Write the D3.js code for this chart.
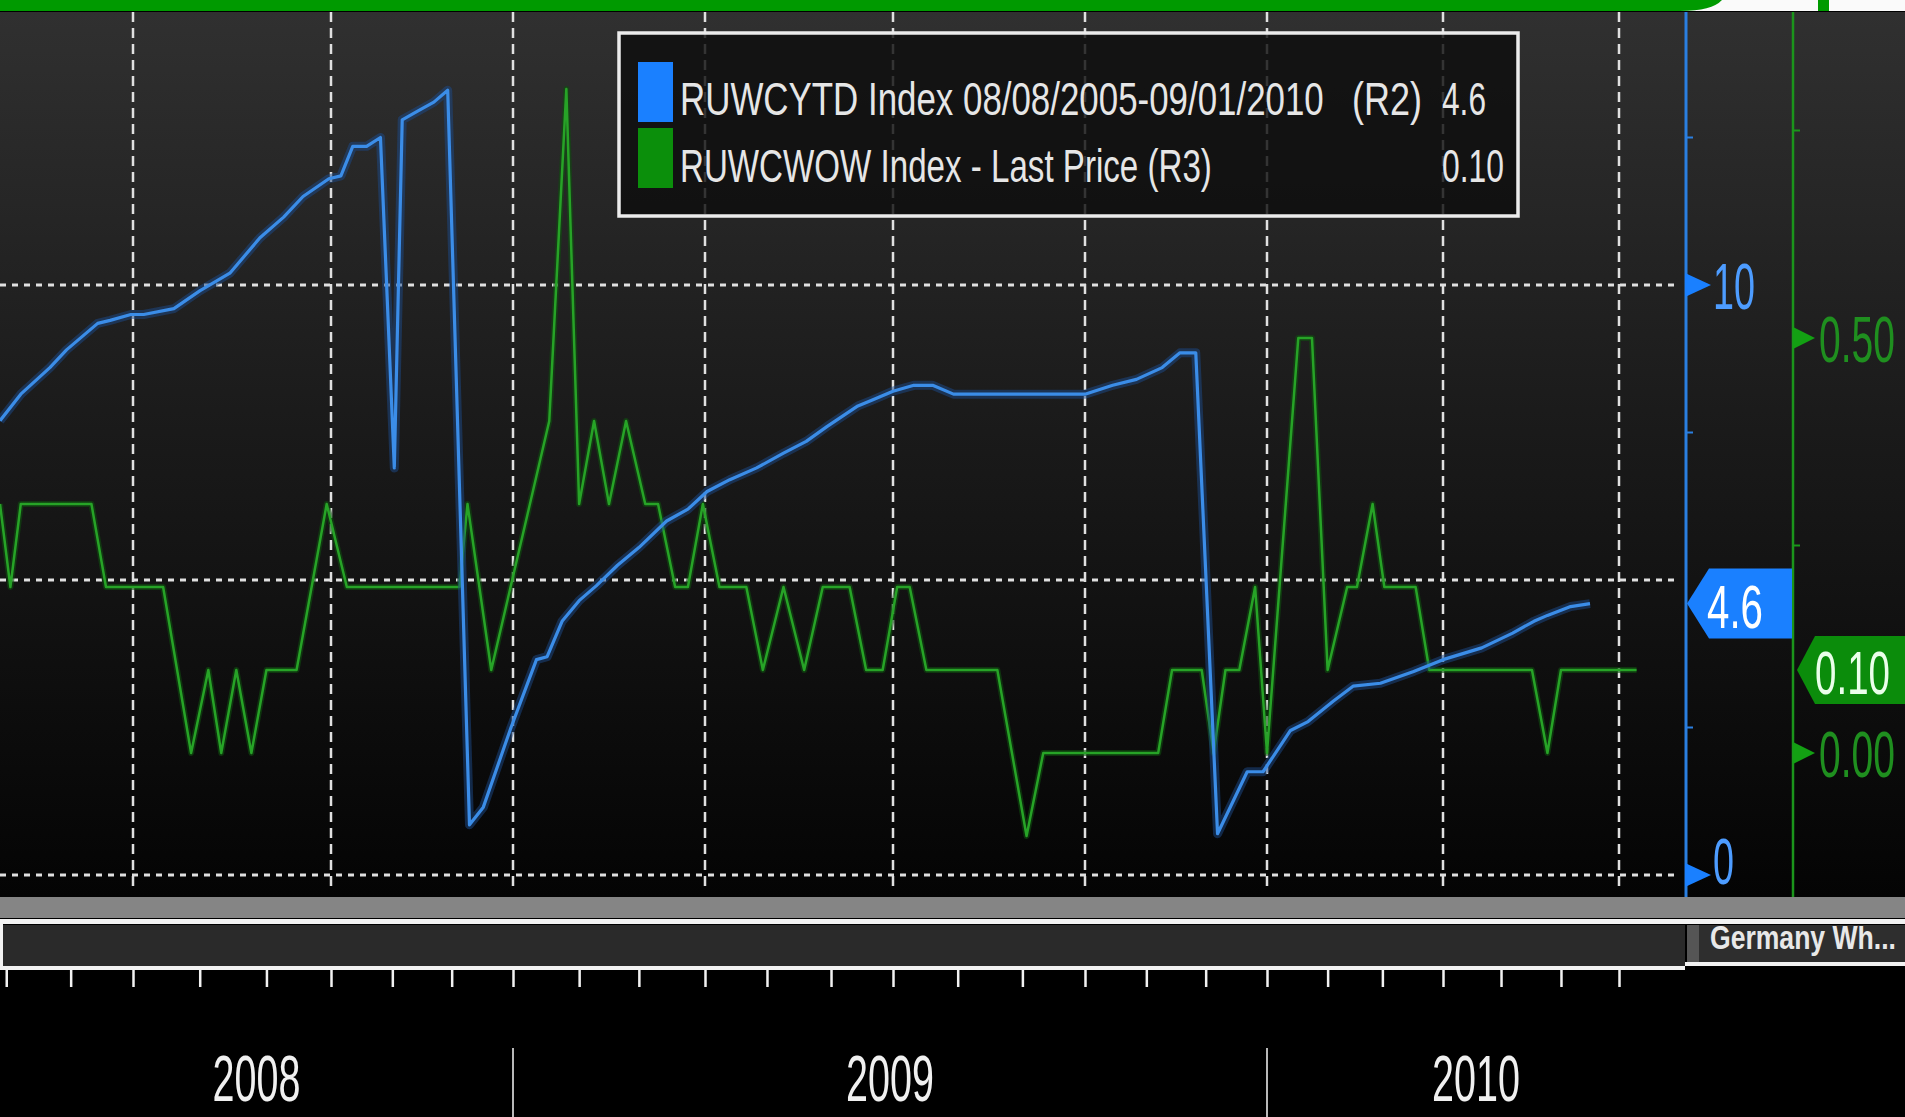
<!DOCTYPE html>
<html>
<head>
<meta charset="utf-8">
<script src="https://cdn.jsdelivr.net/npm/d3@7"></script>
<style>
  html, body { margin:0; padding:0; background:#000; overflow:hidden; }
  svg { display:block; }
  text { font-family: "Liberation Sans", Arial, sans-serif; }
</style>
</head>
<body>
<div id="chart"></div>
<script>
let width_chart = 1905;
let height_chart = 1117;

// RUWCYTD Index (R2) - blue line, corners
let blue_dates = ["2008-04-28","2008-05-08","2008-05-22","2008-05-30","2008-06-14","2008-06-20","2008-06-30","2008-07-06","2008-07-20","2008-08-01",
  "2008-08-15","2008-08-29","2008-09-09","2008-09-18","2008-09-30","2008-10-06","2008-10-12","2008-10-19","2008-10-26","2008-11-02",
  "2008-11-06","2008-11-14","2008-11-22","2008-11-29","2008-12-10","2008-12-17","2008-12-31","2009-01-12","2009-01-17","2009-01-24",
  "2009-02-01","2009-02-09","2009-02-19","2009-03-01","2009-03-14","2009-03-24","2009-04-02","2009-04-13","2009-04-26","2009-05-09",
  "2009-05-20","2009-05-30","2009-06-14","2009-06-21","2009-07-01","2009-07-11","2009-07-20","2009-07-30","2009-10-01","2009-10-15",
  "2009-10-27","2009-11-09","2009-11-18","2009-11-26","2009-12-07","2009-12-22","2009-12-30","2010-01-13","2010-01-22","2010-02-04",
  "2010-02-14","2010-02-28","2010-03-17","2010-04-01","2010-04-21","2010-05-07","2010-05-18","2010-05-25","2010-06-06","2010-06-16"];
let blue_values = [7.7,8.15,8.6,8.9,9.35,9.4,9.5,9.5,9.6,9.9,
  10.2,10.8,11.15,11.5,11.8,11.85,12.35,12.35,12.5,6.9,
  12.8,12.95,13.1,13.3,0.85,1.15,2.5,3.65,3.7,4.3,
  4.65,4.9,5.25,5.55,6.0,6.2,6.5,6.7,6.9,7.15,
  7.35,7.6,7.95,8.05,8.2,8.3,8.3,8.15,8.15,8.3,
  8.4,8.6,8.85,8.85,0.7,1.75,1.75,2.45,2.6,2.95,
  3.2,3.25,3.45,3.65,3.85,4.1,4.3,4.4,4.55,4.6];

// RUWCWOW Index - Last Price (R3) - green line
let green_dates = ["2008-04-28","2008-05-03","2008-05-08","2008-06-11","2008-06-18","2008-07-15","2008-07-28","2008-08-05","2008-08-11","2008-08-18",
  "2008-08-25","2008-09-01","2008-09-15","2008-09-29","2008-10-09","2008-12-05","2008-12-09","2008-12-21","2009-01-18","2009-01-26",
  "2009-02-01","2009-02-08","2009-02-15","2009-02-23","2009-03-04","2009-03-10","2009-03-18","2009-03-24","2009-03-31","2009-04-08",
  "2009-04-21","2009-04-29","2009-05-09","2009-05-19","2009-05-28","2009-06-10","2009-06-18","2009-06-26","2009-07-03","2009-07-09",
  "2009-07-17","2009-08-20","2009-09-03","2009-09-11","2009-11-07","2009-11-14","2009-11-29","2009-12-05","2009-12-11","2009-12-18",
  "2009-12-26","2010-01-01","2010-01-17","2010-01-24","2010-02-01","2010-02-11","2010-02-16","2010-02-24","2010-03-02","2010-03-18",
  "2010-03-25","2010-05-17","2010-05-25","2010-06-01","2010-07-09"];
let green_values = [0.3,0.2,0.3,0.3,0.2,0.2,0.0,0.1,0.0,0.1,
  0.0,0.1,0.1,0.3,0.2,0.2,0.3,0.1,0.4,0.8,
  0.3,0.4,0.3,0.4,0.3,0.3,0.2,0.2,0.3,0.2,
  0.2,0.1,0.2,0.1,0.2,0.2,0.1,0.1,0.2,0.2,
  0.1,0.1,-0.1,0.0,0.0,0.1,0.1,0.0,0.1,0.1,
  0.2,0.0,0.5,0.5,0.1,0.2,0.2,0.3,0.2,0.2,
  0.1,0.1,0.0,0.1,0.1];

let blue_ticks = [0, 10];
let blue_minor = [2.5, 7.5, 12.5];
let blue_grid = [0, 5, 10];
let green_ticks = [0, 0.5];
let green_minor = [0.25, 0.75];
let year_labels = ["2008", "2009", "2010"];
let legend_labels = ["RUWCYTD Index 08/08/2005-09/01/2010", "RUWCWOW Index - Last Price (R3)"];
let legend_tags = ["(R2)", ""];
let footer_label = "Germany Wh...";

let parse = d3.timeParse("%Y-%m-%d");
let blue_data = blue_dates.map((d, i) => ({date: parse(d), value: blue_values[i]}));
let green_data = green_dates.map((d, i) => ({date: parse(d), value: green_values[i]}));

// plot frame
let plot_left = 0, plot_right = 1685, plot_top = 12, plot_bottom = 897;
let green_axis_x = 1793;

// the terminal spaces its quarters a little unevenly
let x = d3.scaleTime()
    .domain(["2008-04-28","2008-07-01","2008-10-01","2009-01-01","2009-04-01","2009-07-01","2009-10-01","2010-01-01","2010-04-01","2010-07-01","2010-07-31"].map(parse))
    .range([0, 133, 331, 513, 705, 893, 1085, 1267, 1443, 1619, plot_right]);
let yBlue = d3.scaleLinear().domain([0, 10]).range([875, 285]);
let yGreen = d3.scaleLinear().domain([0, 0.5]).range([753, 338]);

let svg = d3.select("#chart").append("svg")
    .attr("width", width_chart)
    .attr("height", height_chart);

// text squeezed to a given width (the terminal font is very narrow)
function fitText(parent, str, px, py, w, size, color, anchor, weight) {
    let grp = parent.append("g").attr("transform", "translate(" + px + "," + py + ")");
    let t = grp.append("text")
        .attr("font-size", size)
        .attr("fill", color)
        .attr("text-anchor", anchor || "start")
        .attr("font-weight", weight || "normal")
        .text(str);
    let n = t.node().getComputedTextLength();
    t.attr("transform", "scale(" + (w / n) + ",1)");
    return grp;
}

let defs = svg.append("defs");
let grad = defs.append("linearGradient").attr("id", "bg").attr("x1", 0).attr("y1", 0).attr("x2", 0).attr("y2", 1);
grad.append("stop").attr("offset", "0%").attr("stop-color", "#303030");
grad.append("stop").attr("offset", "45%").attr("stop-color", "#1b1b1b");
grad.append("stop").attr("offset", "100%").attr("stop-color", "#040404");
defs.append("clipPath").attr("id", "plotclip")
  .append("rect").attr("x", plot_left).attr("y", plot_top)
  .attr("width", plot_right - plot_left).attr("height", plot_bottom - plot_top);
defs.append("clipPath").attr("id", "footclip")
  .append("rect").attr("x", plot_right).attr("y", 926).attr("width", width_chart - plot_right).attr("height", 38);

svg.append("rect").attr("width", width_chart).attr("height", height_chart).attr("fill", "#000");
svg.append("rect")
    .attr("x", 0).attr("y", plot_top)
    .attr("width", width_chart).attr("height", plot_bottom - plot_top)
    .attr("fill", "url(#bg)");

// top strip
svg.append("rect").attr("x", 1650).attr("y", 0).attr("width", width_chart - 1650).attr("height", 11).attr("fill", "#fafafa");
svg.append("path")
    .attr("d", "M0,0 L1722,0 Q1712,11 1680,11 L0,11 Z")
    .attr("fill", "#009a00");
svg.append("rect").attr("x", 1818).attr("y", 0).attr("width", 11).attr("height", 11).attr("fill", "#009a00");

// grid
let quarters = d3.timeMonth.every(3).range(x.domain()[0], x.domain()[x.domain().length - 1]);
svg.append("g").selectAll("line")
    .data(quarters)
  .enter().append("line")
    .attr("x1", d => x(d)).attr("x2", d => x(d))
    .attr("y1", plot_top).attr("y2", 890)
    .attr("stroke", "#e0e0e0")
    .attr("stroke-width", 2.5)
    .attr("stroke-dasharray", "10,6");
svg.append("g").selectAll("line")
    .data(blue_grid)
  .enter().append("line")
    .attr("x1", plot_left).attr("x2", plot_right - 6)
    .attr("y1", d => yBlue(d)).attr("y2", d => yBlue(d))
    .attr("stroke", "#e0e0e0")
    .attr("stroke-width", 3)
    .attr("stroke-dasharray", "6,6");

// lines
let lines = svg.append("g").attr("clip-path", "url(#plotclip)");
let blueLine = d3.line().x(d => x(d.date)).y(d => yBlue(d.value));
let greenLine = d3.line().x(d => x(d.date)).y(d => yGreen(d.value));

lines.append("path").datum(green_data)
    .attr("d", greenLine).attr("fill", "none")
    .attr("stroke", "#0f4f0f").attr("stroke-width", 6).attr("stroke-opacity", 0.6)
    .attr("stroke-linejoin", "round");
lines.append("path").datum(green_data)
    .attr("d", greenLine).attr("fill", "none")
    .attr("stroke", "#27a327").attr("stroke-width", 2.5)
    .attr("stroke-linejoin", "round");
lines.append("path").datum(blue_data)
    .attr("d", blueLine).attr("fill", "none")
    .attr("stroke", "#1c4a8a").attr("stroke-width", 9).attr("stroke-opacity", 0.5)
    .attr("stroke-linejoin", "round");
lines.append("path").datum(blue_data)
    .attr("d", blueLine).attr("fill", "none")
    .attr("stroke", "#3b8de8").attr("stroke-width", 3.2)
    .attr("stroke-linejoin", "round");

// legend
let legend = svg.append("g");
legend.append("rect")
    .attr("x", 619).attr("y", 33).attr("width", 899).attr("height", 183)
    .attr("fill", "#0e0e0e").attr("fill-opacity", 0.82)
    .attr("stroke", "#ececec").attr("stroke-width", 3.5);
let legend_colors = ["#1a80ff", "#0b8f0b"];
let legend_last = [d3.format(".1f")(blue_values[blue_values.length - 1]), d3.format(".2f")(green_values[green_values.length - 1])];
let legend_widths = [644, 532];
let last_widths = [44, 62];
legend_labels.forEach(function(lab, i) {
    let base = 115 + i * 67;
    legend.append("rect")
        .attr("x", 638).attr("y", 62 + i * 66).attr("width", 35).attr("height", 60)
        .attr("fill", legend_colors[i]);
    fitText(legend, lab, 680, base, legend_widths[i], 46, "#e6e6e6");
    if (legend_tags[i]) fitText(legend, legend_tags[i], 1352, base, 70, 46, "#e6e6e6");
    fitText(legend, legend_last[i], 1442, base, last_widths[i], 46, "#e6e6e6");
});

// right axes
svg.append("line")
    .attr("x1", plot_right + 1).attr("x2", plot_right + 1)
    .attr("y1", plot_top).attr("y2", 918)
    .attr("stroke", "#2a7fe0").attr("stroke-width", 3);
svg.append("line")
    .attr("x1", green_axis_x).attr("x2", green_axis_x)
    .attr("y1", plot_top).attr("y2", plot_bottom)
    .attr("stroke", "#1b951b").attr("stroke-width", 2.5);

svg.append("g").selectAll("line")
    .data(blue_minor)
  .enter().append("line")
    .attr("x1", plot_right).attr("x2", plot_right + 8)
    .attr("y1", d => yBlue(d)).attr("y2", d => yBlue(d))
    .attr("stroke", "#2a7fe0").attr("stroke-width", 2);
svg.append("g").selectAll("line")
    .data(green_minor)
  .enter().append("line")
    .attr("x1", green_axis_x).attr("x2", green_axis_x + 7)
    .attr("y1", d => yGreen(d)).attr("y2", d => yGreen(d))
    .attr("stroke", "#1b951b").attr("stroke-width", 2);

let axisText = svg.append("g");
blue_ticks.forEach(function(d) {
    let yy = yBlue(d);
    axisText.append("path")
        .attr("d", "M" + plot_right + "," + (yy - 12) + " L" + (plot_right + 26) + "," + yy + " L" + plot_right + "," + (yy + 12) + "Z")
        .attr("fill", "#1a80ff");
    fitText(axisText, String(d), plot_right + 28, Math.min(yy + 24, 884), String(d).length * 21, 64, "#4d9cff");
});
green_ticks.forEach(function(d) {
    let yy = yGreen(d);
    axisText.append("path")
        .attr("d", "M" + green_axis_x + "," + (yy - 11) + " L" + (green_axis_x + 22) + "," + yy + " L" + green_axis_x + "," + (yy + 11) + "Z")
        .attr("fill", "#13a013");
    fitText(axisText, d3.format(".2f")(d), green_axis_x + 26, yy + 24, 76, 64, "#1f8f1f");
});

// last value tags
let yb = yBlue(blue_values[blue_values.length - 1]);
svg.append("path")
    .attr("d", "M" + (plot_right + 2) + "," + yb + " L" + (plot_right + 24) + "," + (yb - 35) + " L" + (green_axis_x - 1) + "," + (yb - 35) +
               " L" + (green_axis_x - 1) + "," + (yb + 35) + " L" + (plot_right + 24) + "," + (yb + 35) + "Z")
    .attr("fill", "#1a80ff");
fitText(svg, legend_last[0], plot_right + 22, yb + 24, 56, 62, "#ffffff");

let yg = yGreen(green_values[green_values.length - 1]);
svg.append("path")
    .attr("d", "M" + (green_axis_x + 4) + "," + yg + " L" + (green_axis_x + 22) + "," + (yg - 34) + " L" + width_chart + "," + (yg - 34) +
               " L" + width_chart + "," + (yg + 34) + " L" + (green_axis_x + 22) + "," + (yg + 34) + "Z")
    .attr("fill", "#0b8c0b");
fitText(svg, legend_last[1], green_axis_x + 22, yg + 24, 75, 62, "#eaffea");

// bottom bands
svg.append("rect").attr("x", 0).attr("y", plot_bottom).attr("width", width_chart).attr("height", 21).attr("fill", "#858585");
svg.append("rect").attr("x", 0).attr("y", 925).attr("width", plot_right).attr("height", 41).attr("fill", "#2a2a2a");
let foot = svg.append("g");
foot.append("rect").attr("x", plot_right + 2).attr("y", 925).attr("width", width_chart - plot_right).attr("height", 38).attr("fill", "#2e2e2e");
foot.append("rect").attr("x", plot_right + 2).attr("y", 925).attr("width", 12).attr("height", 38).attr("fill", "#555");
let footText = foot.append("g").attr("clip-path", "url(#footclip)");
fitText(footText, footer_label, 1710, 949, 186, 34, "#e8e8e8", "start", "bold");
svg.append("rect").attr("x", 0).attr("y", 919).attr("width", width_chart).attr("height", 5).attr("fill", "#f2f2f2");
svg.append("rect").attr("x", 0).attr("y", 922).attr("width", 3).attr("height", 44).attr("fill", "#f2f2f2");
svg.append("rect").attr("x", 0).attr("y", 966).attr("width", plot_right).attr("height", 4).attr("fill", "#f2f2f2");
svg.append("rect").attr("x", plot_right).attr("y", 962).attr("width", width_chart - plot_right).attr("height", 4).attr("fill", "#f2f2f2");

// month ticks
let months = d3.timeMonth.range(x.domain()[0], x.domain()[x.domain().length - 1]);
let axis = svg.append("g")
    .attr("transform", "translate(0,969)")
    .call(d3.axisBottom(x).tickValues(months).tickSize(18).tickFormat(""));
axis.select(".domain").remove();
axis.selectAll(".tick line").attr("stroke", "#f2f2f2").attr("stroke-width", 2.5);

// years
let yearStarts = year_labels.map(y => parse(y + "-01-01"));
svg.append("g").selectAll("line")
    .data(yearStarts.filter(d => x(d) > 0))
  .enter().append("line")
    .attr("x1", d => x(d)).attr("x2", d => x(d))
    .attr("y1", 1048).attr("y2", height_chart)
    .attr("stroke", "#b8b8b8").attr("stroke-width", 2);
let years = svg.append("g");
year_labels.forEach(function(lab, i) {
    let a = Math.max(x(yearStarts[i]), 0);
    let b = i < year_labels.length - 1 ? Math.min(x(yearStarts[i + 1]), plot_right) : plot_right;
    fitText(years, lab, (a + b) / 2, 1101, 88, 64, "#f0f0f0", "middle");
});
</script>
</body>
</html>
